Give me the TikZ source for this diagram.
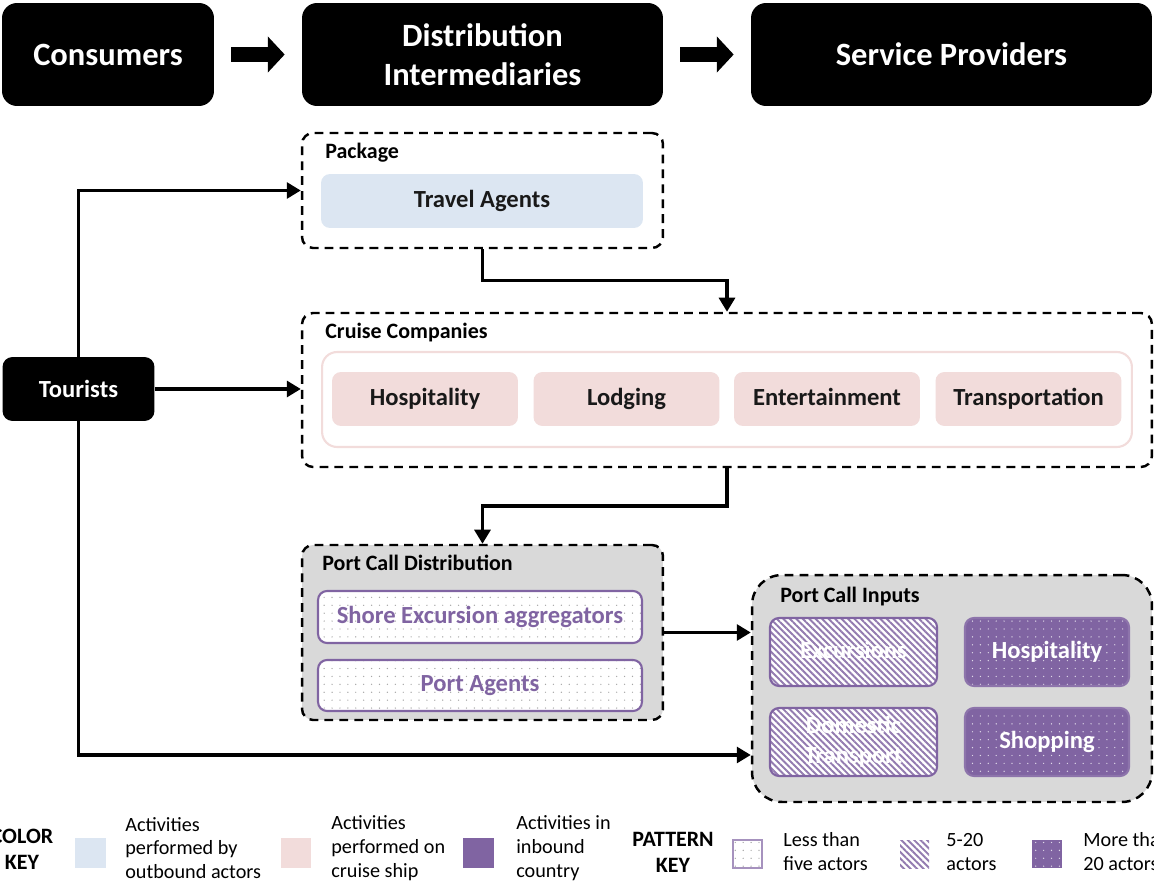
\documentclass[tikz,border=0pt]{standalone}
\usepackage{fontspec}
\setmainfont{Carlito}
\usetikzlibrary{arrows.meta, patterns.meta, calc}

\definecolor{cpurple}{HTML}{8064A2}
\definecolor{cblue}{HTML}{DCE6F2}
\definecolor{cpink}{HTML}{F2DCDB}
\definecolor{cgray}{HTML}{D9D9D9}

\tikzset{
  hdr/.style={fill=black, text=white, rounded corners=0.3cm, minimum height=2.06cm, align=center, font=\bfseries\fontsize{18.5}{22}\selectfont},
  grp/.style={draw, line width=1.4pt, dash pattern=on 5pt off 3.5pt, rounded corners=0.22cm},
  ttl/.style={anchor=west, inner sep=0pt, font=\bfseries\fontsize{12.5}{15}\selectfont},
  act/.style={rounded corners=0.18cm, minimum height=1.08cm, text height=10pt, text depth=3pt, font=\bfseries\fontsize{14}{16}\selectfont, text=black!90},
  fewdots/.style={preaction={fill=white}, pattern={Dots[distance=4.5pt, radius=0.4pt]}, pattern color=black!35},
  somelines/.style={preaction={fill=white}, pattern={Lines[angle=-45, distance=2.6pt, line width=1.1pt]}, pattern color=cpurple!85},
  manydots/.style={preaction={fill=cpurple}, pattern={Dots[distance=4.5pt, radius=0.4pt]}, pattern color=white!75!cpurple},
  flow/.style={line width=2.1pt, -{Triangle[length=8pt, width=9pt]}},
  blk/.style={line width=9pt, -{Triangle[length=9.6pt, width=20pt]}, shorten <=0.34cm, shorten >=0.34cm},
  keytxt/.style={anchor=west, inner sep=0pt, align=left, font=\fontsize{11.5}{13.6}\selectfont},
  keyttl/.style={inner sep=0pt, align=center, font=\bfseries\fontsize{12.5}{14.7}\selectfont}
}

\begin{document}
\begin{tikzpicture}[x=0.02cm, y=-0.02cm]
  \useasboundingbox (0,0) rectangle (1154,882);

  % top row
  \node[hdr, minimum width=4.24cm] (cons) at (108,54.5) {Consumers};
  \node[hdr, minimum width=7.22cm] (dist) at (482.5,54.5) {Distribution\\Intermediaries};
  \node[hdr, minimum width=8.02cm] (serv) at (951.5,54.5) {Service Providers};
  \draw[blk] (cons) -- (dist);
  \draw[blk] (dist) -- (serv);

  % package
  \node[grp, minimum width=7.22cm, minimum height=2.30cm] (pkg) at (482.5,190.5) {};
  \node[ttl] at (325,153) {Package};
  \node[act, fill=cblue, minimum width=6.44cm] (travel) at (482,201) {Travel Agents};

  % tourists
  \node[fill=black, text=white, rounded corners=0.2cm, minimum width=3.04cm, minimum height=1.28cm, font=\bfseries\fontsize{14}{16}\selectfont] (tour) at (78.5,389) {Tourists};

  % cruise companies
  \node[grp, minimum width=17cm, minimum height=3.08cm] (cruise) at (727,390) {};
  \node[ttl] at (325,333) {Cruise Companies};
  \node[draw=cpink, line width=1.2pt, fill=white, rounded corners=0.3cm, minimum width=16.2cm, minimum height=1.9cm] (ship) at (727,399.5) {};
  \node[act, fill=cpink, minimum width=3.72cm] (shosp) at (425,399) {Hospitality};
  \node[act, fill=cpink, minimum width=3.72cm] (slodg) at (626.5,399) {Lodging};
  \node[act, fill=cpink, minimum width=3.72cm] (sent) at (827,399) {Entertainment};
  \node[act, fill=cpink, minimum width=3.72cm] (strans) at (1028.5,399) {Transportation};

  % port call distribution
  \node[grp, fill=cgray, minimum width=7.22cm, minimum height=3.5cm] (pcd) at (482.5,632.5) {};
  \node[ttl] at (322,563) {Port Call Distribution};
  \node[act, fewdots, draw=cpurple, line width=1.2pt, text=cpurple, minimum width=6.48cm, minimum height=1.04cm] (shore) at (480,617) {Shore Excursion aggregators};
  \node[act, fewdots, draw=cpurple, line width=1.2pt, text=cpurple, minimum width=6.48cm, minimum height=1.02cm] (pagent) at (480,685.5) {Port Agents};

  % port call inputs
  \node[grp, fill=cgray, rounded corners=0.6cm, minimum width=8cm, minimum height=4.54cm] (pci) at (952,688.5) {};
  \node[ttl] at (780,597) {Port Call Inputs};
  \node[act, somelines, draw=cpurple, line width=1.2pt, text=white, minimum width=3.34cm, minimum height=1.36cm] (exc) at (853.5,652) {Excursions};
  \node[act, manydots, draw=cpurple!90, line width=1.2pt, text=white, minimum width=3.28cm, minimum height=1.36cm] (ihosp) at (1047,652) {Hospitality};
  \node[act, somelines, draw=cpurple, line width=1.2pt, text=white, minimum width=3.34cm, minimum height=1.36cm, text height=, text depth=, align=center, font=\bfseries\fontsize{14}{17}\selectfont] (dom) at (853.5,742) {Domestic\\Transport};
  \node[act, manydots, draw=cpurple!90, line width=1.2pt, text=white, minimum width=3.28cm, minimum height=1.36cm] (shop) at (1047,742) {Shopping};

  % connectors
  \draw[flow] (tour.north) |- (pkg.west);
  \draw[flow] (tour.east) -- (tour.east -| cruise.west);
  \draw[flow] (tour.south) |- ([yshift=-1.33cm]pci.west);
  \draw[flow] (pkg.south) |- ($(pkg.south)!0.5!(cruise.north)$) -| (cruise.north);
  \draw[flow] (cruise.south) |- ($(cruise.south)!0.5!(pcd.north)$) -| (pcd.north);
  \draw[flow] (pcd.east) -- (pcd.east -| pci.west);

  % color key
  \node[keyttl] (ckey) at (22,849) {COLOR\\KEY};
  \node[fill=cblue, minimum width=0.62cm, minimum height=0.6cm, inner sep=0pt] (kblue) at (90.5,853) {};
  \node[keytxt] at (125,848) {Activities\\performed by\\outbound actors};
  \node[fill=cpink, minimum width=0.62cm, minimum height=0.6cm, inner sep=0pt] (kpink) at (296,853) {};
  \node[keytxt] at (331,848) {Activities\\performed on\\cruise ship};
  \node[fill=cpurple, minimum width=0.62cm, minimum height=0.6cm, inner sep=0pt] (kpurple) at (478.5,853) {};
  \node[keytxt] at (516,848) {Activities in\\inbound\\country};

  % pattern key
  \node[keyttl] (pkey) at (673,852) {PATTERN\\KEY};
  \node[fewdots, draw=cpurple!70, line width=0.6pt, minimum width=0.58cm, minimum height=0.56cm, inner sep=0pt] (kfew) at (747.5,854) {};
  \node[keytxt] at (783,852) {Less than\\five actors};
  \node[somelines, minimum width=0.58cm, minimum height=0.56cm, inner sep=0pt] (ksome) at (914.5,854) {};
  \node[keytxt] at (946,852) {5-20\\actors};
  \node[manydots, minimum width=0.6cm, minimum height=0.56cm, inner sep=0pt] (kmany) at (1047,854) {};
  \node[keytxt] at (1083,852) {More than\\20 actors};
\end{tikzpicture}
\end{document}
